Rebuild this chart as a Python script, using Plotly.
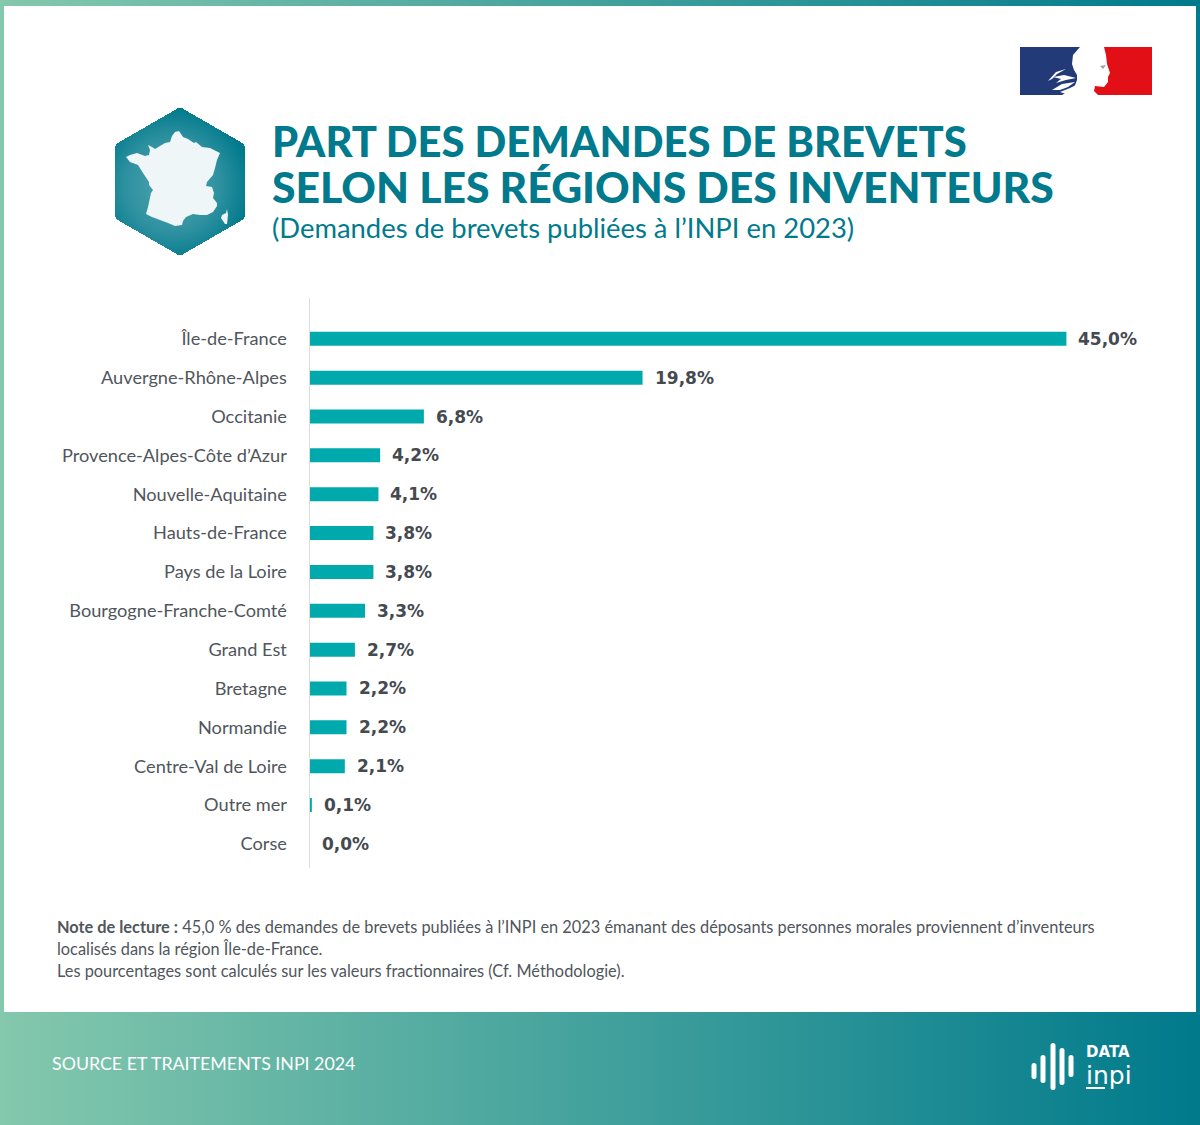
import numpy as np
import plotly.graph_objects as go

# donnees
regions = ["Île-de-France", "Auvergne-Rhône-Alpes", "Occitanie", "Provence-Alpes-Côte d’Azur",
           "Nouvelle-Aquitaine", "Hauts-de-France", "Pays de la Loire", "Bourgogne-Franche-Comté",
           "Grand Est", "Bretagne", "Normandie", "Centre-Val de Loire", "Outre mer", "Corse"]
parts = [45.0, 19.8, 6.8, 4.2, 4.1, 3.8, 3.8, 3.3, 2.7, 2.2, 2.2, 2.1, 0.14, 0.0]
labels = ["45,0%", "19,8%", "6,8%", "4,2%", "4,1%", "3,8%", "3,8%", "3,3%", "2,7%", "2,2%",
          "2,2%", "2,1%", "0,1%", "0,0%"]

TEAL = "#007a8c"
BAR = "#00a9ac"
GREY = "#50565c"
SANS = "Lato"
W, H = 1200, 1125

# contour de la France, en pixels de l'image
france = [(175, 132), (179, 131), (183, 137), (188, 139), (194, 143), (196, 142), (202, 147), (210, 148),
          (220, 153), (217, 160), (215, 168), (213, 175), (207, 182), (206, 186), (212, 187), (214, 193),
          (213, 198), (217, 203), (217, 206), (213, 212), (207, 215), (200, 215), (193, 214), (186, 217),
          (183, 221), (182, 225), (175, 226), (168, 223), (160, 220), (152, 217), (146, 214), (148, 207),
          (151, 193), (153, 190), (149, 185), (149, 182), (143, 173), (138, 165), (130, 162), (126, 157),
          (130, 155), (137, 153), (145, 156), (149, 155), (150, 150), (148, 145), (152, 147), (155, 149),
          (165, 143), (170, 142), (172, 136)]
corse = [(227, 209), (228, 215), (227, 224), (225, 224), (221, 218), (222, 215), (226, 213)]
# profil de Marianne et meches de cheveux
marianne = [(1080, 47), (1104, 47), (1106, 55), (1107, 64), (1110, 73), (1108, 77), (1108, 82), (1104, 87),
            (1095, 86), (1094, 91), (1098, 95), (1062, 95), (1074, 88), (1077, 80), (1077, 75), (1074, 70),
            (1072, 64), (1073, 55)]
meches = [[(1048, 81), (1056, 72), (1066, 69), (1057, 74), (1052, 79)],
          [(1053, 77), (1064, 75), (1076, 78), (1066, 80), (1056, 83), (1061, 79)],
          [(1052, 90), (1062, 84), (1075, 82), (1068, 87), (1060, 90)],
          [(1060, 92), (1070, 88), (1078, 84), (1074, 90), (1066, 94)]]
oeil = [(1100, 66), (1106, 65), (1103, 69)]
# barres du logo data inpi
logo_barres = [(1034, 1063, 1079), (1043, 1055, 1083), (1053, 1043, 1090), (1062, 1048, 1085), (1071, 1055, 1077)]


def poly_path(points):
    return "M " + " L ".join(f"{x},{y}" for x, y in points) + " Z"


def pill_path(x, y0, y1, w=5.0):
    r = w / 2
    return (f"M {x - r},{y0 + r} Q {x - r},{y0} {x},{y0} Q {x + r},{y0} {x + r},{y0 + r} "
            f"L {x + r},{y1 - r} Q {x + r},{y1} {x},{y1} Q {x - r},{y1} {x - r},{y1 - r} Z")


def hex_sdf(px, py, r):
    # distance au bord d'un hexagone pointe en haut
    k = (-0.8660254, 0.5, 0.5773503)
    a, b = np.abs(py), np.abs(px)
    d = np.minimum(k[0] * a + k[1] * b, 0)
    a = a - 2 * d * k[0]
    b = b - 2 * d * k[1]
    a = a - np.clip(a, -k[2] * r, k[2] * r)
    b = b - r
    return np.hypot(a, b) * np.sign(b)


fig = go.Figure()

# le graphique lui-meme
fig.add_trace(go.Bar(x=parts, y=regions, orientation="h", marker=dict(color=BAR, line=dict(width=0)),
                     hoverinfo="skip"))

# bandeaux en degrade (x et y donnes comme bords des cellules)
ramp = [[0, "#84c8ad"], [1, TEAL]]
edges = np.arange(0, W + 1, 4)
centers = (edges[:-1] + edges[1:]) / 2
for y0, y1 in [(0, 6), (1012, H)]:
    fig.add_trace(go.Heatmap(x=edges, y=[y0, y1], z=[centers / W], zmin=0, zmax=1, colorscale=ramp,
                             showscale=False, hoverinfo="skip", xaxis="x2", yaxis="y2"))
for x0, x1, t in [(0, 4, 0.0), (1196, W, 1.0)]:
    fig.add_trace(go.Heatmap(x=[x0, x1], y=[0, 1012], z=[[t]], zmin=0, zmax=1, colorscale=ramp,
                             showscale=False, hoverinfo="skip", xaxis="x2", yaxis="y2"))

# hexagone avec degrade radial
hx = np.arange(113, 247, 1.0)
hy = np.arange(105, 258, 1.0)
gx, gy = np.meshgrid(hx, hy)
sd = hex_sdf(gx - 179.5, gy - 181, 61.5) - 3
rad = np.hypot(gx - 172, gy - 185) / 78
z = np.where(sd <= 0, np.clip(rad, 0, 1), np.nan)
fig.add_trace(go.Heatmap(x=hx, y=hy, z=z, zmin=0, zmax=1,
                         colorscale=[[0, "#4fa6ae"], [0.6, "#2f91a0"], [1, TEAL]],
                         showscale=False, hoverinfo="skip", xaxis="x2", yaxis="y2"))

shapes = []


def add_shape(path, color):
    shapes.append(dict(type="path", path=path, fillcolor=color, line=dict(width=0), xref="x2", yref="y2"))


add_shape(poly_path(france), "#eef6f7")
add_shape(poly_path(corse), "#eef6f7")
# logo de la republique
add_shape(poly_path([(1020, 47), (1090, 47), (1090, 95), (1020, 95)]), "#233a78")
add_shape(poly_path([(1090, 47), (1152, 47), (1152, 95), (1090, 95)]), "#e30f17")
add_shape(poly_path(marianne), "#ffffff")
for m in meches:
    add_shape(poly_path(m), "#ffffff")
add_shape(poly_path(oeil), "#9aa0a6")
# logo data inpi
for x, y0, y1 in logo_barres:
    add_shape(pill_path(x, y0, y1), "#ffffff")
shapes.append(dict(type="line", x0=1086, x1=1105, y0=1088, y1=1088, line=dict(color="#ffffff", width=2),
                   xref="x2", yref="y2"))

annotations = []


def add_text(x, y, text, size, color, weight=400, family=SANS, anchor="left"):
    annotations.append(dict(x=x, y=y, text=text, xref="x2", yref="y2", xanchor=anchor, yanchor="middle",
                            showarrow=False, align="left",
                            font=dict(family=family, size=size, color=color, weight=weight)))


add_text(270, 141, "PART DES DEMANDES DE BREVETS", 41.8, TEAL, 900)
add_text(270, 186, "SELON LES RÉGIONS DES INVENTEURS", 42.7, TEAL, 900)
add_text(270, 227, "(Demandes de brevets publiées à l’INPI en 2023)", 27.4, TEAL)
add_text(55, 926, "<b>Note de lecture :</b> 45,0 % des demandes de brevets publiées à l’INPI en 2023 émanant "
                  "des déposants personnes morales proviennent d’inventeurs", 16.35, GREY)
add_text(55, 948, "localisés dans la région Île-de-France.", 16.35, GREY)
add_text(55, 970, "Les pourcentages sont calculés sur les valeurs fractionnaires (Cf. Méthodologie).", 16.35, GREY)
add_text(50, 1063, "SOURCE ET TRAITEMENTS INPI 2024", 17.8, "#ffffff")
add_text(1084, 1052, "DATA", 15, "#ffffff", 700, "DejaVu Sans")
add_text(1084, 1075, "inpi", 25, "#ffffff", 400, "DejaVu Sans")

# etiquettes des barres
for region, part, label in zip(regions, parts, labels):
    annotations.append(dict(x=part, y=region, text=label, xref="x", yref="y", xanchor="left", yanchor="middle",
                            xshift=10, showarrow=False,
                            font=dict(family="DejaVu Sans", size=17, color="#444a50", weight=700)))

fig.update_layout(
    width=W, height=H, margin=dict(l=0, r=0, t=0, b=0, pad=0),
    paper_bgcolor="white", plot_bgcolor="rgba(0,0,0,0)",
    showlegend=False, bargap=0.64,
    xaxis=dict(domain=[309.5 / W, 1150.5 / W], range=[0, 50], visible=False, fixedrange=True),
    yaxis=dict(domain=[1 - 868 / H, 1 - 298 / H], type="category", categoryorder="array", categoryarray=regions,
               range=[13.62, -1.05], showgrid=False, zeroline=False, showline=True, linecolor="#dcdcdc", linewidth=1,
               ticks="", ticklabelstandoff=18, tickfont=dict(family=SANS, size=18.2, color=GREY), fixedrange=True),
    xaxis2=dict(domain=[0, 1], range=[0, W], visible=False, anchor="y2", fixedrange=True),
    yaxis2=dict(domain=[0, 1], range=[H, 0], visible=False, anchor="x2", fixedrange=True),
    shapes=shapes, annotations=annotations,
)

fig.write_html("out.html", config=dict(displayModeBar=False),
               post_script="document.body.style.margin='0';")
